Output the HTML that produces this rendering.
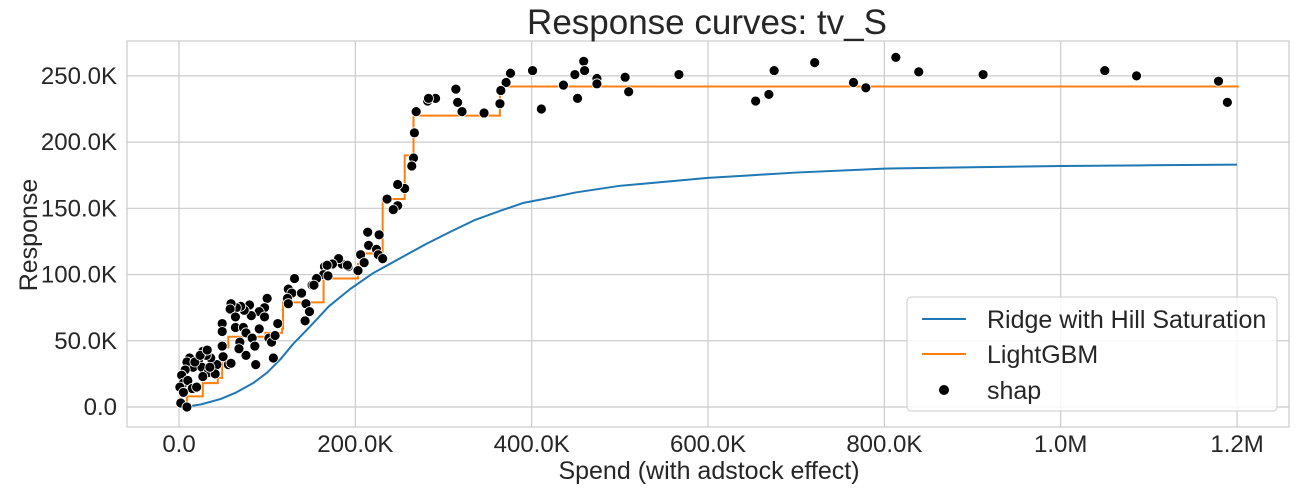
<!DOCTYPE html>
<html><head><meta charset="utf-8"><style>
body{margin:0;background:#fff;font-family:"Liberation Sans",sans-serif}
</style></head><body>
<svg id="chart" width="1299" height="496" xmlns="http://www.w3.org/2000/svg" font-family="Liberation Sans, sans-serif">
<g id="grid"></g>
<rect x="127" y="41" width="1162" height="386" fill="none" stroke="#cccccc" stroke-width="1.2"/>
<g id="ticks"></g>
<g id="series"></g>
<text x="707" y="34" text-anchor="middle" font-size="35" fill="#262626">Response curves: tv_S</text>
<text x="709" y="479" text-anchor="middle" font-size="25" fill="#262626">Spend (with adstock effect)</text>
<text transform="translate(37,235) rotate(-90)" text-anchor="middle" font-size="25" fill="#262626">Response</text>
<g>
<rect x="907" y="297" width="370" height="114" rx="4" fill="#fff" fill-opacity="0.85" stroke="#cccccc"/>
<line x1="922" y1="319" x2="966" y2="319" stroke="#1f77b4" stroke-width="2"/>
<text x="987" y="328" font-size="25" fill="#262626">Ridge with Hill Saturation</text>
<line x1="922" y1="354" x2="966" y2="354" stroke="#ff7f0e" stroke-width="2"/>
<text x="987" y="363" font-size="25" fill="#262626">LightGBM</text>
<circle cx="944" cy="390" r="5" fill="#000"/>
<text x="987" y="399" font-size="25" fill="#262626">shap</text>
</g>
</svg>
<script>
const xTicks=[0,200,400,600,800,1000,1200];
const xTickLabels=["0.0","200.0K","400.0K","600.0K","800.0K","1.0M","1.2M"];
const yTicks=[0,50,100,150,200,250];
const yTickLabels=["0.0","50.0K","100.0K","150.0K","200.0K","250.0K"];
const hillX=[0,9,25,47,65,84,100,115,130,149,170,194,220,250,280,307,335,364,390,421,450,500,550,600,650,700,800,900,1000,1100,1200];
const hillY=[0,0.3,2,6,11,18,26,36,48,61,76,89,101,112,123,132,141,148,154,158,162,167,170,173,175,177,180,181,182,182.5,183];
const stepX=[1,9,27,44,49,56,98,117,118,164,203,207,231,256,266,364,1202];
const stepY=[0,8,18,22,45,53,56,59,79,97,108,116,157,190,220,242,242];
const shapX=[401,411,436,449,452,459,460,474,474,506,510,567,654,669,675,721,765,779,813,839,912,1050,1086,1179,1189,
376,371,365,364,346,321,316,314,291,282,283,269,267,266,264,256,248,248,243,236,214,227,215,224,226,231,206,210,203,192,185,181,174,165,164,169,155,151,
168,191,156,131,124,128,139,153,144,148,143,123,124,100,97,91,97,82,80,74,70,65,59,58,64,49,49,64,73,76,69,83,91,102,105,109,112,86,76,68,87,107,
49,56,59,50,43,36,31,27,22,16,26,33,41,35,12,9,7,3,5,10,15,1,5,20,27,2,9,18,24,32];
const shapY=[254,225,243,251,233,261,254,248,244,249,238,251,231,236,254,260,245,241,264,253,251,254,250,246,230,
252,245,239,229,222,223,230,240,233,231,233,223,207,188,182,165,168,152,149,157,132,130,122,119,115,112,115,109,103,106,108,112,108,106,100,99,97,92,
107,107,97,97,89,86,86,92,78,72,65,82,78,82,75,72,68,69,77,73,76,75,78,74,68,63,57,60,60,56,49,52,59,52,49,54,63,46,39,44,32,37,
46,32,33,38,32,37,39,42,35,30,30,26,25,30,37,34,28,24,18,20,14,15,11,15,23,3,0,34,39,43];
const NS="http://www.w3.org/2000/svg";
const X0=127,X1=1289,Y0=41,Y1=427;
const sx=v=>179+v*0.8817;
const sy=v=>407-v*1.3245;
function mk(tag,attrs,parent){const e=document.createElementNS(NS,tag);for(const k in attrs)e.setAttribute(k,attrs[k]);parent.appendChild(e);return e;}
const grid=document.getElementById('grid'),ticks=document.getElementById('ticks'),series=document.getElementById('series');
xTicks.forEach((t,i)=>{
 const l=mk('line',{x1:sx(t),x2:sx(t),y1:Y0,y2:Y1,stroke:'#cccccc','stroke-width':1.2},grid);
 
 
 const tx=mk('text',{x:sx(t),y:452,'text-anchor':'middle','font-size':24,fill:'#262626'},ticks);
 tx.textContent=xTickLabels[i];
 
 
});
yTicks.forEach((t,i)=>{
 const l=mk('line',{x1:X0,x2:X1,y1:sy(t),y2:sy(t),stroke:'#cccccc','stroke-width':1.2},grid);
 
 
 const tx=mk('text',{x:117,y:sy(t)+8,'text-anchor':'end','font-size':24,fill:'#262626'},ticks);
 tx.textContent=yTickLabels[i];
 
 
});
const hp=mk('polyline',{points:hillX.map((x,i)=>sx(x)+','+sy(hillY[i])).join(' '),fill:'none',stroke:'#1f77b4','stroke-width':2,'stroke-linejoin':'round'},series);


let pts=[];
for(let i=0;i<stepX.length;i++){
 pts.push(sx(stepX[i])+','+sy(stepY[i]));
 if(i<stepX.length-1)pts.push(sx(stepX[i+1])+','+sy(stepY[i]));
}
const sp=mk('polyline',{points:pts.join(' '),fill:'none',stroke:'#ff7f0e','stroke-width':2},series);


shapX.forEach((x,i)=>{
 const c=mk('circle',{cx:sx(x),cy:sy(shapY[i]),r:5,fill:'#000',stroke:'#fff','stroke-width':0.8},series);
 
 
});
</script>
</body></html>
